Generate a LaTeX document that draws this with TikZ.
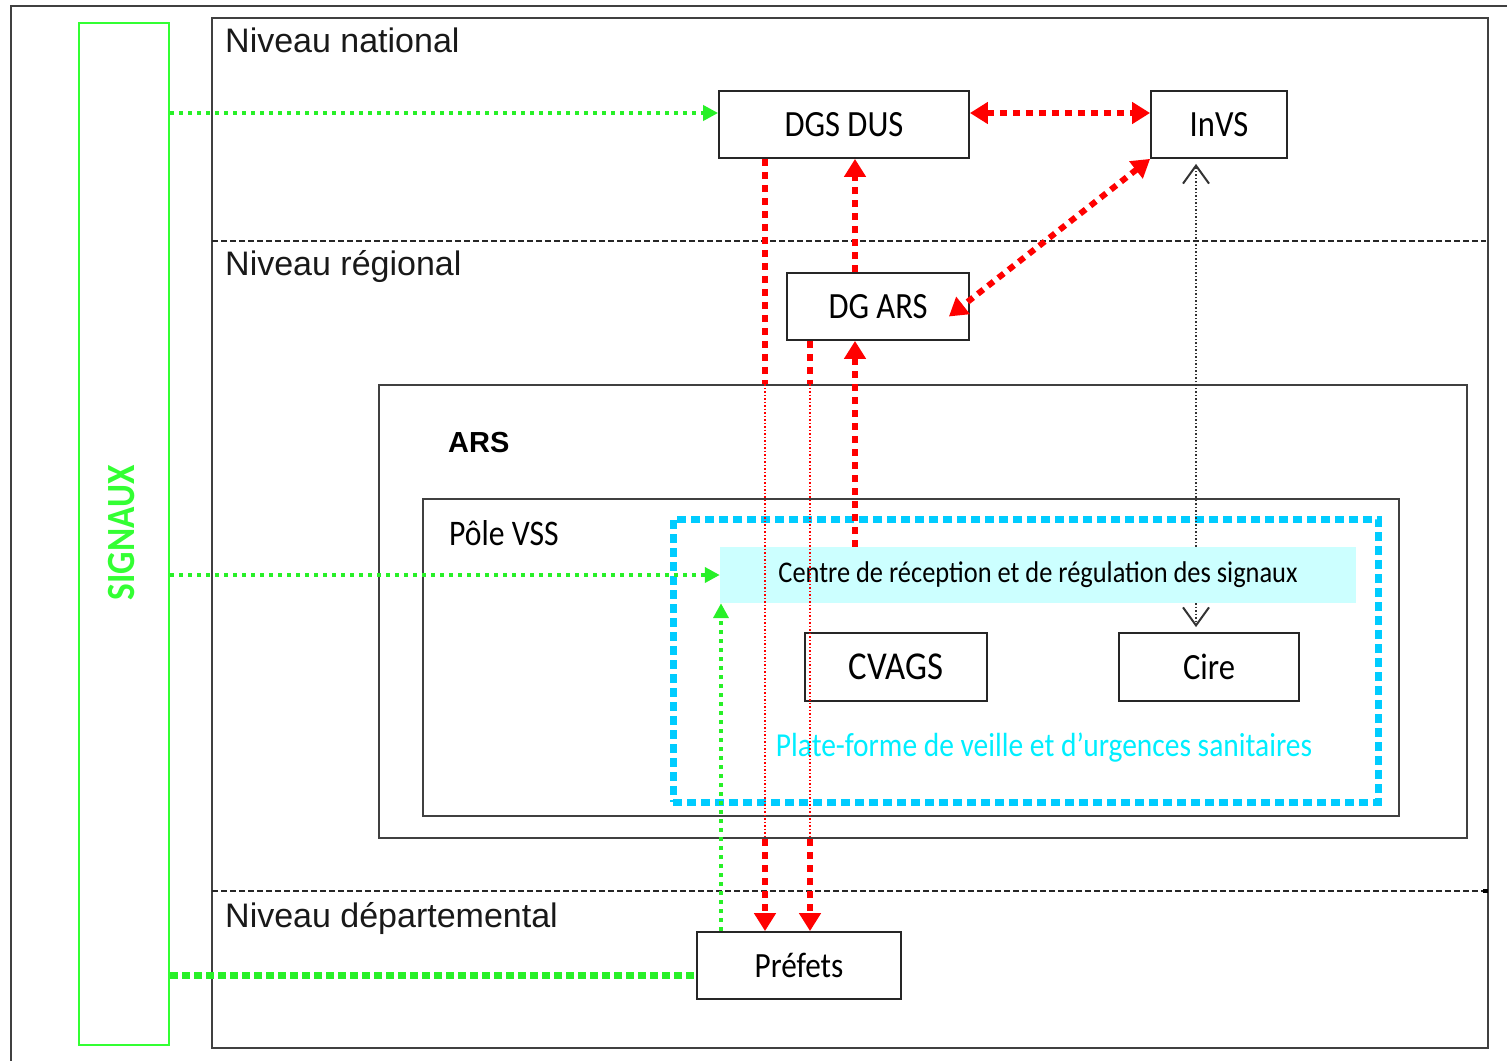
\documentclass[tikz,border=0pt]{standalone}
\usepackage{fontspec}
\setmainfont{Liberation Sans}
\newfontfamily\cond{Carlito}[FakeStretch=0.88]
\usetikzlibrary{arrows.meta,calc}
\definecolor{sgreen}{RGB}{40,240,40}
\definecolor{bgreen}{RGB}{51,255,51}
\definecolor{sred}{RGB}{255,0,0}
\definecolor{scyan}{RGB}{0,204,255}
\definecolor{tcyan}{RGB}{0,238,255}
\definecolor{cfill}{RGB}{204,255,255}
\definecolor{frame}{RGB}{64,64,64}
\tikzset{
  box/.style={draw=black!85, line width=1.8pt, minimum width=#1, minimum height=67pt, inner sep=0pt,
    font=\cond\fontsize{37}{42}\selectfont},
  framebox/.style={draw=frame, line width=2pt},
  levellabel/.style={anchor=base west, inner sep=0pt, font=\fontsize{34}{38}\selectfont, text=black!90},
  redthick/.style={draw=sred, line width=6pt, dash pattern=on 7pt off 6pt},
  redthin/.style={draw=sred, line width=1.5pt, dash pattern=on 1.5pt off 2pt},
  greenthin/.style={draw=sgreen, line width=4pt, dash pattern=on 4pt off 5pt},
  greenthick/.style={draw=sgreen, line width=7pt, dash pattern=on 8pt off 4pt},
  blackdot/.style={draw=black!80, line width=1.3pt, dash pattern=on 1.5pt off 2pt},
  rtip/.tip={Triangle[length=18pt,width=21pt]},
  gtip/.tip={Triangle[length=15pt,width=15pt]},
  otip/.tip={Straight Barb[length=18pt,width=26pt,line width=2pt]}
}
\begin{document}
\begin{tikzpicture}[x=1pt,y=-1pt]
\useasboundingbox (0,0) rectangle (1507,1060);
% outer frame
\draw[framebox] (11,1062) -- (11,6) -- (1510,6);
% signaux
\node[draw=bgreen, line width=2pt, minimum width=90pt, minimum height=1022pt, inner sep=0pt] (signaux) at (124,534) {};
\node[rotate=90, text=bgreen, font=\cond\bfseries\fontsize{40}{44}\selectfont] (sigtext) at (122,533) {SIGNAUX};
% main frame
\node[framebox, minimum width=1276pt, minimum height=1030pt, inner sep=0pt] (main) at (850,533) {};
\draw[black!85, line width=1.5pt, dash pattern=on 6pt off 3pt] (212,241) -- (1486,241);
\draw[black!85, line width=1.5pt, dash pattern=on 6pt off 3pt] (212,891) -- (1486,891);
\fill[black] (1483,889) rectangle (1488,893);
\node[levellabel] (lnat) at (225,52) {Niveau national};
\node[levellabel] (lreg) at (225,275) {Niveau régional};
\node[levellabel] (ldep) at (225,927) {Niveau départemental};
% ARS and pole
\node[framebox, minimum width=1088pt, minimum height=453pt, inner sep=0pt] (ars) at (923,611.5) {};
\node[anchor=base west, inner sep=0pt, font=\bfseries\fontsize{29}{34}\selectfont] (arst) at (448,452) {ARS};
\node[framebox, minimum width=976pt, minimum height=317pt, inner sep=0pt] (pole) at (911,657.5) {};
\node[anchor=base west, inner sep=0pt, font=\cond\fontsize{36}{40}\selectfont] (polet) at (449,545) {Pôle VSS};
% plate-forme
\node[draw=scyan, line width=7pt, dash pattern=on 9pt off 5pt, minimum width=705pt, minimum height=283pt, inner sep=0pt] (pf) at (1025.5,660.5) {};
\node[text=tcyan, font=\cond\fontsize{33.5}{38}\selectfont, inner sep=0pt] (pft) at (1044,748) {Plate-forme de veille et d’urgences sanitaires};
\node[fill=cfill, minimum width=636pt, minimum height=56pt, inner sep=0pt, font=\cond\fontsize{30}{34}\selectfont] (centre) at (1038,575) {Centre de réception et de régulation des signaux};
% boxes
\node[box=250pt] (dgs) at (844,124.5) {DGS DUS};
\node[box=136pt] (invs) at (1219,124.5) {InVS};
\node[box=182pt] (dgars) at (878,306.5) {DG ARS};
\node[box=182pt, minimum height=68pt, font=\cond\fontsize{39.5}{44}\selectfont] (cvags) at (896,667) {CVAGS};
\node[box=180pt, minimum height=68pt] (cire) at (1209,667) {Cire};
\node[box=204pt, font=\cond\fontsize{35.5}{40}\selectfont] (prefets) at (799,965.5) {Préfets};
% green connectors
\coordinate (gw) at ([yshift=11.5pt]dgs.west);
\draw[greenthin, -gtip] (signaux.east |- gw) -- (gw);
\draw[greenthin, -gtip] (signaux.east |- centre.west) -- (centre.west);
\coordinate (pw) at ([yshift=-10pt]prefets.west);
\draw[greenthick] (signaux.east |- pw) -- (pw);
\coordinate (gup) at ([xshift=-78pt]prefets.north);
\draw[greenthin, -gtip] (gup) -- (gup |- centre.south);
% red connectors
\draw[redthick, rtip-rtip] ([yshift=11.5pt]dgs.east) -- ([yshift=11.5pt]invs.west);
\coordinate (dgtip) at ([xshift=-21pt,yshift=-10pt]dgars.east);
\draw[redthick, rtip-rtip] (invs.south west) -- (dgtip);
\coordinate (ua) at ([xshift=-23pt]dgars.north);
\draw[redthick, -rtip] (ua) -- (ua |- dgs.south);
\coordinate (ub) at ([xshift=-23pt]dgars.south);
\draw[redthick, -rtip] (ub |- centre.north) -- (ub);
% down lines to prefets
\coordinate (da) at ([xshift=-79pt]dgs.south);
\coordinate (db) at ([xshift=-68pt]dgars.south);
\draw[redthick] (da) -- (da |- ars.north);
\draw[redthin] (da |- ars.north) -- (da |- ars.south);
\draw[redthick, -rtip] (da |- ars.south) -- (da |- prefets.north);
\draw[redthick] (db) -- (db |- ars.north);
\draw[redthin] (db |- ars.north) -- (db |- ars.south);
\draw[redthick, -rtip] (db |- ars.south) -- (db |- prefets.north);
% black dotted
\coordinate (ka) at ([xshift=-23pt]invs.south);
\draw[blackdot, -otip, shorten >=5pt] (ka |- centre.north) -- (ka);
\draw[blackdot, -otip, shorten >=5pt] (ka |- centre.south) -- (ka |- cire.north);
\end{tikzpicture}
\end{document}
